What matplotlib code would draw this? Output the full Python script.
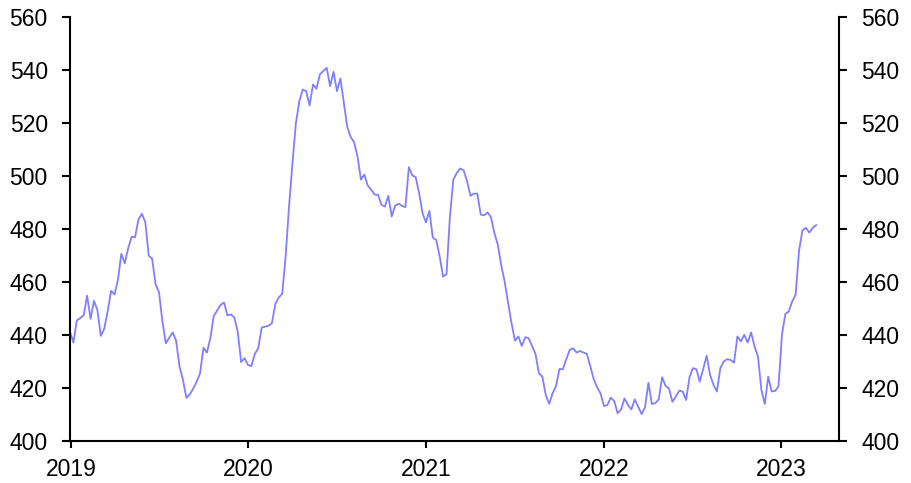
import matplotlib
matplotlib.use("Agg")
import matplotlib.pyplot as plt
import matplotlib.dates as mdates
import pandas as pd

# Weekly index values
values = [
    441.1, 437.0, 445.3, 446.2, 447.3, 454.7, 445.9, 452.7, 449.3, 439.5,
    442.2, 448.7, 456.5, 455.1, 460.7, 470.5, 466.9, 472.6, 476.9, 476.7,
    483.4, 485.6, 482.4, 469.8, 468.6, 459.0, 456.0, 444.9, 436.7, 438.8,
    440.8, 437.7, 427.9, 422.9, 416.1, 417.4, 419.6, 422.1, 425.4, 435.0,
    433.2, 438.6, 447.0, 449.1, 451.2, 452.1, 447.2, 447.6, 446.5, 441.1,
    429.6, 431.1, 428.5, 428.1, 432.7,
    434.8, 442.6, 443.0, 443.3, 444.3, 451.6, 454.0, 455.4, 469.5, 488.4,
    504.8, 519.9, 528.1, 532.5, 531.9, 526.5, 534.4, 532.8, 538.2, 539.5,
    540.7, 533.8, 539.2, 531.9, 536.7, 527.5, 518.4, 514.6, 512.6, 507.3,
    498.5, 500.4, 496.2, 494.7, 492.8, 492.8, 489.0, 488.3, 492.4, 484.6,
    488.6, 489.4, 488.6, 488.1, 503.2, 500.1, 499.4, 493.4, 485.8, 482.3,
    486.7, 476.6, 475.7,
    469.5, 461.9, 462.8, 484.6, 498.5, 501.0, 502.7, 502.0, 497.9, 492.4,
    493.2, 493.2, 485.3, 485.0, 486.1, 484.3, 478.3, 473.9, 466.1, 460.0,
    451.9, 444.3, 437.7, 439.3, 435.7, 439.0, 438.6, 435.7, 432.7, 425.4,
    424.1, 417.2, 413.8, 417.8, 420.6, 427.0, 426.9, 430.7, 434.2, 434.8,
    433.2, 433.8, 433.2, 432.7, 428.1, 423.2, 420.1, 417.8, 413.0, 413.4,
    416.2, 414.9, 410.3,
    411.7, 415.9, 413.4, 411.7, 415.5, 412.8, 410.0, 412.5, 421.8, 413.8,
    414.1, 415.5, 423.9, 420.6, 419.7, 414.6, 416.6, 418.8, 418.5, 415.3,
    423.9, 427.3, 426.9, 422.2, 427.0, 432.0, 424.8, 421.0, 418.5, 427.3,
    429.8, 430.7, 430.4, 429.4, 439.3, 437.4, 439.9, 437.0, 440.8, 435.5,
    431.7, 419.1, 413.8, 424.1, 418.5, 418.7, 420.4, 439.9, 447.8, 448.7,
    452.5, 455.0, 471.7, 479.3, 480.3, 478.5, 480.3, 481.3,
]
start_date = "2018-12-30"
end_date = "2023-03-14"
dates = pd.date_range(start_date, end_date, periods=len(values))

year_ticks = ["2019", "2020", "2021", "2022", "2023"]
y_ticks = [400, 420, 440, 460, 480, 500, 520, 540, 560]

plt.rcParams["font.family"] = ["Liberation Sans", "DejaVu Sans"]

fig = plt.figure(figsize=(9.11, 4.83), dpi=100)
ax = fig.add_axes([70 / 911, 1 - 440.5 / 483, (839 - 70) / 911, (440.5 - 16.7) / 483])

ax.plot(dates, values, color="#7F7FFF", linewidth=1.3, solid_joinstyle="round")

ax.set_ylim(400, 560)
ax.set_xlim(pd.Timestamp("2018-12-30"), pd.Timestamp("2023-04-30"))
ax.set_yticks(y_ticks)
ax.set_xticks([pd.Timestamp(y + "-01-01") for y in year_ticks])
ax.set_xticklabels(year_ticks)

for side in ["left", "bottom", "right"]:
    ax.spines[side].set_linewidth(1.5)
    ax.spines[side].set_color("black")
ax.spines["top"].set_visible(False)

ax.tick_params(axis="y", which="both", direction="out", length=6, width=1.5,
               labelsize=16.5, pad=10, left=True, right=True,
               labelleft=True, labelright=True)
ax.tick_params(axis="x", direction="out", length=5, width=1.5,
               labelsize=16.5, pad=7.5)

fig.savefig("out.png", dpi=100)
